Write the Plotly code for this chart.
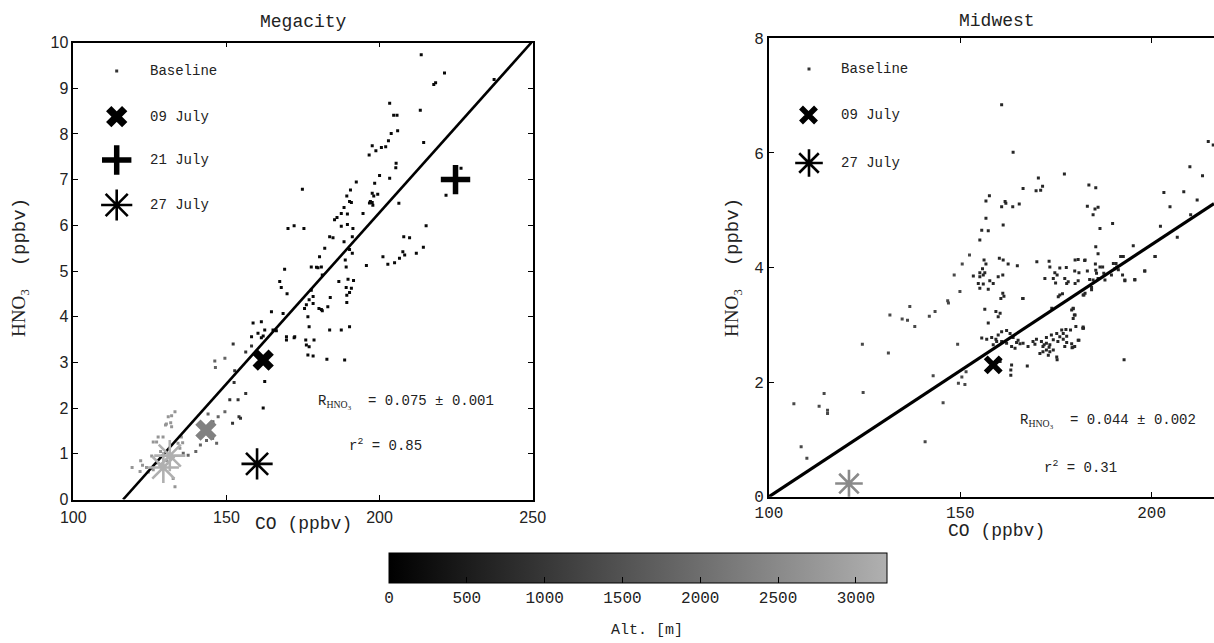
import plotly.graph_objects as go
import numpy as np

W, H = 1214, 643

# ---------------- DATA ----------------
# Megacity baseline points, grouped by altitude (m)
mega_k_co = [213.6, 221.2, 218.3, 217.7, 237.4, 203.3, 204.6, 205.7, 213.3, 205.9, 203.8, 202.9, 202.0, 200.6,
             198.8, 197.6, 196.6, 214.4, 205.4, 205.3, 200.0, 203.3, 192.4, 198.4, 190.5, 197.6, 199.4, 198.1,
             189.3, 190.8, 196.7, 197.6, 206.3, 188.4, 187.5, 186.1, 189.5, 194.6, 221.7, 226.6, 215.2, 185.3,
             187.5, 189.5, 191.3, 174.8, 170.1, 172.1, 175.3, 183.7, 184.8, 188.4, 191.1, 182.1, 190.2, 191.1,
             188.8, 180.4, 179.4, 177.7, 169.0, 189.1, 195.7, 190.2, 197.0, 197.8, 207.9, 209.8, 201.1, 202.7,
             204.9, 206.5, 207.6, 208.2, 212.0, 214.3, 181.3, 181.0, 179.9, 167.4, 167.9, 169.8, 186.7, 189.7,
             191.5, 177.7, 177.0, 178.3, 178.3, 176.1, 175.5, 181.0, 183.1, 183.9, 181.3, 180.2, 189.1, 190.8,
             190.2, 189.3, 189.3, 176.6, 177.0, 183.7, 187.5, 190.2, 175.9, 176.1, 177.0, 178.6, 176.6, 178.3,
             182.8, 188.6, 169.6, 172.3, 164.7, 168.5, 161.4, 158.7, 162.5, 166.3, 158.2, 162.0, 162.5, 162.0,
             165.2, 172.1, 169.6, 160.3, 161.4]
mega_k_hno3 = [9.73, 9.33, 9.12, 9.08, 9.19, 8.67, 8.41, 8.41, 8.52, 8.07, 8.01, 7.85, 7.72, 7.70,
               7.63, 7.74, 7.54, 7.81, 7.36, 7.26, 7.09, 7.03, 6.95, 6.92, 6.77, 6.70, 6.68, 6.64,
               6.64, 6.50, 6.49, 6.50, 6.48, 6.39, 6.26, 6.17, 6.25, 6.26, 6.66, 7.25, 5.99, 6.12,
               5.98, 6.02, 5.93, 6.79, 5.93, 5.99, 5.93, 5.75, 5.73, 5.64, 5.75, 5.50, 5.47, 5.39,
               5.24, 5.31, 5.08, 5.09, 5.04, 5.09, 5.12, 6.52, 6.52, 6.44, 5.75, 5.73, 5.31, 5.15,
               5.18, 5.28, 5.42, 5.35, 5.39, 5.52, 4.91, 5.09, 5.07, 4.77, 4.64, 4.50, 4.77, 4.82,
               4.79, 4.58, 4.37, 4.44, 4.29, 4.26, 4.18, 4.16, 4.22, 4.42, 4.13, 4.18, 4.64, 4.62,
               4.53, 4.31, 4.47, 4.00, 3.78, 3.71, 3.71, 3.78, 3.49, 3.38, 3.34, 3.49, 3.16, 3.14,
               3.07, 3.05, 3.56, 3.56, 4.11, 4.07, 3.89, 3.86, 3.71, 3.69, 3.56, 3.58, 2.58, 2.00,
               3.71, 3.54, 3.49, 3.64, 3.54]
mega_k_alt = 150

mega_d_co = [152.2, 156.3, 158.2, 152.7, 152.5, 156.3, 153.8, 151.1, 154.6, 154.1, 152.0]
mega_d_hno3 = [3.40, 3.23, 3.36, 2.82, 2.56, 2.32, 2.18, 2.18, 1.78, 1.81, 1.67]
mega_d_alt = 900

mega_g_co = [146.2, 149.5, 146.4, 149.5, 145.6, 147.3, 144.0, 143.5, 145.5, 146.8, 141.5, 140.0, 137.5, 135.9]
mega_g_hno3 = [3.03, 3.09, 2.89, 1.92, 1.70, 1.81, 1.87, 1.29, 1.34, 1.23, 1.19, 1.05, 0.97, 1.01]
mega_g_alt = 1800

mega_l_co = [131.0, 132.1, 133.2, 131.8, 132.1, 130.4, 127.7, 129.3, 126.1, 135.3, 134.2, 134.8, 122.0, 122.6,
             121.8, 119.2, 123.9, 124.5, 126.1, 133.2, 125.6, 127.2, 130.1, 135.7, 132.6, 128.5, 130.5, 127.5]
mega_l_hno3 = [1.81, 1.83, 1.92, 1.68, 1.59, 1.65, 1.37, 1.37, 1.26, 1.37, 1.23, 1.12, 0.85, 0.75,
               0.61, 0.70, 0.70, 0.60, 0.65, 0.28, 0.95, 1.26, 1.63, 1.24, 0.46, 1.05, 0.85, 0.80]
mega_l_alt = 2700

# Midwest baseline points
mid_k_co = [160.8, 163.8, 177.2, 214.8, 216.1, 210.0, 213.3, 183.6, 185.4, 170.4, 169.8, 171.0, 171.5, 166.4,
            165.4, 163.7, 161.7, 160.8, 161.9, 157.6, 156.7, 156.7, 155.6, 157.3, 155.1, 161.2, 183.2, 184.7,
            186.0, 185.2, 186.5, 189.8, 185.4, 195.2, 202.3, 204.8, 203.2, 208.4, 206.7, 211.9, 210.2, 200.9,
            198.2, 195.6, 193.0, 192.6, 190.7, 191.3, 189.5, 186.0, 185.3,
            156.2, 156.7, 155.8, 155.1, 156.4, 153.4, 155.1, 156.0, 154.7, 156.0, 155.1, 157.3, 157.7, 158.6,
            159.9, 161.1, 160.2, 161.2, 162.5, 164.9, 161.1, 160.6, 161.4, 159.3, 160.4, 159.9, 157.3, 166.4,
            156.4,
            155.6, 156.9, 158.2, 159.3, 159.9, 160.8, 162.1, 163.0, 163.8, 165.1, 164.7, 165.6, 164.3, 163.4,
            162.1, 160.8, 159.5, 158.6, 163.2, 163.4, 167.5, 160.4, 163.2,
            166.4, 167.7, 169.0, 169.9, 171.2, 171.6, 172.5, 173.4, 174.3, 172.5, 173.8, 175.5, 176.0, 176.9,
            177.8, 179.1, 179.9, 174.3, 175.2, 171.6, 170.8, 173.0, 175.2, 176.9, 177.8, 180.8, 178.8, 177.3,
            179.4, 169.5, 172.5, 171.9, 173.2, 173.4, 175.3, 177.6, 182.2, 179.2, 192.8, 176.5, 182.0, 181.0,
            180.2, 179.5, 179.1, 182.1, 177.3, 177.8, 178.2, 175.3, 175.6, 176.0, 180.0, 180.8, 182.1, 182.6,
            184.7, 186.0, 185.6, 187.5, 184.3, 186.5, 190.0, 190.4, 191.9, 193.0, 195.6, 198.2, 200.9, 192.4,
            190.9, 170.0, 173.4, 174.3, 176.0, 180.0, 182.6, 173.2, 174.7, 172.1, 174.9, 177.7, 176.7, 179.9,
            181.0, 180.8, 182.5, 183.2, 183.8, 185.4, 187.2, 187.8, 179.5, 180.0, 182.3, 184.3, 166.3, 173.9,
            179.5, 179.8]
mid_k_hno3 = [6.84, 6.01, 5.63, 6.20, 6.14, 5.76, 5.60, 5.44, 5.39, 5.56, 5.34, 5.35, 5.42, 5.38,
              5.11, 5.06, 5.15, 5.06, 5.12, 5.25, 5.16, 4.86, 4.65, 4.64, 4.48, 4.74, 5.07, 4.92,
              5.05, 5.02, 4.68, 4.77, 4.36, 4.38, 4.72, 5.06, 5.31, 5.32, 4.53, 5.18, 4.92, 4.19,
              3.94, 3.78, 3.77, 4.19, 4.07, 3.96, 3.87, 4.24, 4.06,
              4.13, 4.06, 3.98, 3.91, 3.91, 3.85, 3.84, 3.87, 3.72, 3.71, 3.64, 3.62, 3.77, 3.72,
              3.84, 3.87, 4.16, 4.13, 4.06, 4.03, 3.55, 3.46, 3.50, 3.23, 3.20, 3.14, 3.03, 3.46,
              3.27,
              2.77, 2.75, 2.78, 2.75, 2.82, 2.88, 2.90, 2.85, 2.78, 2.73, 2.69, 2.67, 2.59, 2.62,
              2.68, 2.71, 2.71, 2.65, 2.21, 2.30, 2.28, 2.36, 2.12,
              2.68, 2.62, 2.71, 2.75, 2.71, 2.62, 2.56, 2.65, 2.74, 2.78, 2.82, 2.71, 2.79, 2.75,
              2.69, 2.67, 2.62, 2.56, 2.44, 2.53, 2.50, 2.47, 2.85, 2.85, 2.80, 2.73, 2.91, 2.62,
              2.61, 2.66, 2.68, 2.65, 2.61, 2.53, 2.39, 2.92, 2.94, 2.60, 2.39, 2.91, 2.94, 2.73,
              2.97, 3.11, 3.26, 2.96, 3.81, 3.72, 3.75, 3.87, 3.49, 3.52, 3.72, 3.77, 3.52, 3.55,
              3.78, 3.81, 3.90, 3.90, 3.61, 4.01, 4.07, 3.98, 4.19, 3.78, 3.79, 3.94, 4.19, 3.87,
              4.01, 4.10, 4.01, 3.81, 3.99, 4.13, 4.13, 4.11, 3.91, 3.81, 3.73, 4.00, 3.54, 3.94,
              3.91, 4.14, 4.12, 3.94, 3.79, 3.95, 4.01, 3.78, 3.28, 3.17, 3.52, 3.65, 3.46, 3.29,
              3.29, 3.17]
mid_k_alt = 700

mid_g_co = [124.4, 131.2, 142.9, 145.5, 140.8, 124.6, 114.4, 113.1, 115.3, 115.3, 106.5, 108.4, 109.9, 136.8,
            134.8, 136.2, 131.6, 138.1, 143.4, 141.9, 146.7, 146.9, 149.9, 148.4, 150.5, 152.4, 149.3, 149.5,
            151.2, 151.5, 150.4]
mid_g_hno3 = [2.66, 2.51, 2.11, 1.64, 0.96, 1.82, 1.80, 1.58, 1.51, 1.45, 1.62, 0.87, 0.67, 3.32,
              3.10, 3.08, 3.17, 2.97, 3.23, 3.15, 3.42, 3.38, 3.58, 3.87, 4.06, 4.22, 2.66, 1.98,
              1.96, 2.18, 2.09]
mid_g_alt = 1300

# Plume flights (CO, HNO3, altitude)
mega_jul09_co, mega_jul09_hno3, mega_jul09_alt = [162.0, 143.3], [3.05, 1.52], [50, 2350]
mega_jul21_co, mega_jul21_hno3, mega_jul21_alt = [224.8], [7.0], [50]
mega_jul27_co, mega_jul27_hno3, mega_jul27_alt = [160.0, 129.4, 131.5], [0.78, 0.70, 0.96], [50, 3200, 3200]
mid_jul09_co, mid_jul09_hno3, mid_jul09_alt = [158.6], [2.30], [50]
mid_jul27_co, mid_jul27_hno3, mid_jul27_alt = [120.9], [0.23], [2500]

# Regression fits (slope, intercept)
mega_fit = (0.075, -8.72)
mid_fit = (0.044, -4.4)
mega_stats = ("0.075", "0.001", "0.85")
mid_stats = ("0.044", "0.002", "0.31")

alt_ticks = [0, 500, 1000, 1500, 2000, 2500, 3000]

# ---------------- STYLE ----------------
MONO = "Liberation Mono"
SANS = "Liberation Sans"
SERIF = "Liberation Serif"
CSCALE = [[0, "rgb(0,0,0)"], [1, "rgb(176,176,176)"]]
CMIN, CMAX = 0, 3200
TXT = "#222"


def px(x):
    return x / W


def py(y):
    return 1 - y / H


fig = go.Figure()


def base(xs, ys, alt, xa, ya, showscale=False):
    kw = {}
    if showscale:
        kw = dict(colorbar=dict(
            orientation="h", thickness=30, thicknessmode="pixels", len=498, lenmode="pixels",
            x=px(638), xanchor="center", y=py(553), yanchor="top", xpad=0, ypad=0,
            outlinecolor="black", outlinewidth=1, ticks="inside", ticklen=6, tickcolor="black",
            tickvals=alt_ticks, tickfont=dict(family=MONO, size=16, color=TXT)))
    fig.add_trace(go.Scatter(
        x=xs, y=ys, mode="markers", xaxis=xa, yaxis=ya, hoverinfo="skip",
        marker=dict(symbol="square", size=3, color=[alt] * len(xs), colorscale=CSCALE,
                    cmin=CMIN, cmax=CMAX, showscale=showscale, line=dict(width=0), **kw)))


def special(xs, ys, alts, sym, size, lw, xa, ya):
    fig.add_trace(go.Scatter(
        x=xs, y=ys, mode="markers", xaxis=xa, yaxis=ya, hoverinfo="skip",
        marker=dict(symbol=sym, size=size, color=alts, colorscale=CSCALE, cmin=CMIN, cmax=CMAX,
                    line=dict(width=lw, color=alts, colorscale=CSCALE, cmin=CMIN, cmax=CMAX))))


def fitline(fit, xmax, ymax, xa, ya, width):
    a, b = fit
    x0 = -b / a
    x1 = min(xmax, (ymax - b) / a)
    xs = np.array([x0, x1])
    fig.add_trace(go.Scatter(x=xs, y=a * xs + b, mode="lines", xaxis=xa, yaxis=ya,
                             line=dict(color="black", width=width), hoverinfo="skip"))


# Megacity
base(mega_l_co, mega_l_hno3, mega_l_alt, "x", "y")
base(mega_g_co, mega_g_hno3, mega_g_alt, "x", "y")
base(mega_d_co, mega_d_hno3, mega_d_alt, "x", "y")
base(mega_k_co, mega_k_hno3, mega_k_alt, "x", "y", showscale=True)
fitline(mega_fit, 250, 10, "x", "y", 2.6)
special(mega_jul09_co, mega_jul09_hno3, mega_jul09_alt, "x-thin", 16, 7.5, "x", "y")
special(mega_jul21_co, mega_jul21_hno3, mega_jul21_alt, "cross-thin", 21, 5.5, "x", "y")
special(mega_jul27_co, mega_jul27_hno3, mega_jul27_alt, "asterisk", 26, 2.6, "x", "y")

# Midwest
base(mid_g_co, mid_g_hno3, mid_g_alt, "x2", "y2")
base(mid_k_co, mid_k_hno3, mid_k_alt, "x2", "y2")
MID_XMAX = 216.3
fitline(mid_fit, MID_XMAX, 8, "x2", "y2", 3.2)
special(mid_jul09_co, mid_jul09_hno3, mid_jul09_alt, "x-thin", 15, 5.5, "x2", "y2")
special(mid_jul27_co, mid_jul27_hno3, mid_jul27_alt, "asterisk", 23, 2.6, "x2", "y2")

# Legend keys drawn in a pixel-unit overlay axis
keys = [
    (116.7, 71, "square", 3, 0, "Baseline"),
    (116.7, 116.7, "x-thin", 16, 7.5, "09 July"),
    (116.7, 160, "cross-thin", 21, 5.5, "21 July"),
    (116.7, 205, "asterisk", 26, 2.6, "27 July"),
    (809, 69, "square", 3, 0, "Baseline"),
    (808.5, 115, "x-thin", 15, 5.5, "09 July"),
    (809, 163, "asterisk", 23, 2.6, "27 July"),
]
for kx, ky, sym, sz, lw, lab in keys:
    fig.add_trace(go.Scatter(x=[kx], y=[ky], mode="markers", xaxis="x3", yaxis="y3", hoverinfo="skip",
                             marker=dict(symbol=sym, size=sz, color="black" if lab != "Baseline" else "#333",
                                         line=dict(width=lw, color="black"))))

annotations = []
for kx, ky, sym, sz, lw, lab in keys:
    tx = 148 if kx < 600 else 838.5
    annotations.append(dict(x=px(tx), y=py(ky), xref="paper", yref="paper", text=lab, showarrow=False,
                            xanchor="left", yanchor="middle", font=dict(family=MONO, size=14, color=TXT)))

# Titles
annotations.append(dict(x=px(303), y=py(22), xref="paper", yref="paper", text="Megacity", showarrow=False,
                        xanchor="center", yanchor="middle", font=dict(family=MONO, size=18, color=TXT)))
annotations.append(dict(x=px(997), y=py(21), xref="paper", yref="paper", text="Midwest", showarrow=False,
                        xanchor="center", yanchor="middle", font=dict(family=MONO, size=18, color=TXT)))
# Axis titles
for cx, cy in [(303, 524), (997, 531)]:
    annotations.append(dict(x=px(cx), y=py(cy), xref="paper", yref="paper", text="CO (ppbv)", showarrow=False,
                            xanchor="center", yanchor="middle", font=dict(family=MONO, size=18, color=TXT)))
ylab = "<span style='font-family:Liberation Serif'>HNO<sub>3</sub></span>  (ppbv)"
for cx, cy in [(20, 268), (733, 268)]:
    annotations.append(dict(x=px(cx), y=py(cy), xref="paper", yref="paper", text=ylab, showarrow=False,
                            textangle=-90, xanchor="center", yanchor="middle",
                            font=dict(family=MONO, size=19, color=TXT)))
# Colorbar title
annotations.append(dict(x=px(647), y=py(630), xref="paper", yref="paper", text="Alt. [m]", showarrow=False,
                        xanchor="center", yanchor="middle", font=dict(family=MONO, size=15, color=TXT)))
# Fit statistics
for (rx, ry, r2x, r2y), (s, e, r2) in [((316, 402, 347, 445), mega_stats), ((1018, 421, 1042, 467), mid_stats)]:
    annotations.append(dict(
        x=px(rx), y=py(ry), xref="paper", yref="paper", showarrow=False, xanchor="left", yanchor="middle",
        text=f"R<sub><span style='font-family:Liberation Serif'>HNO<sub>3</sub></span></sub>  = {s} \u00b1 {e}",
        font=dict(family=MONO, size=14, color=TXT)))
    annotations.append(dict(
        x=px(r2x), y=py(r2y), xref="paper", yref="paper", showarrow=False, xanchor="left", yanchor="middle",
        text=f"r<sup>2</sup> = {r2}", font=dict(family=MONO, size=14, color=TXT)))

axis_common = dict(showline=True, linecolor="black", showgrid=False, zeroline=False, ticks="inside",
                   tickcolor="black", ticklen=5)

fig.update_layout(
    width=W, height=H, margin=dict(l=0, r=0, t=0, b=0, autoexpand=False),
    paper_bgcolor="white", plot_bgcolor="rgba(0,0,0,0)", showlegend=False,
    xaxis=dict(domain=[px(73.3), px(532.7)], range=[100, 250], tickvals=[100, 150, 200, 250],
               mirror="allticks", linewidth=1.5, anchor="y", ticklabelstandoff=3,
               tickfont=dict(family=SANS, size=16, color=TXT), **axis_common),
    yaxis=dict(domain=[py(499.5), py(42.5)], range=[0, 10], tickvals=list(range(11)),
               mirror="allticks", linewidth=1.5, anchor="x",
               tickfont=dict(family=SANS, size=16, color=TXT), **axis_common),
    xaxis2=dict(domain=[px(769), 1.0], range=[100, MID_XMAX], tickvals=[100, 150, 200],
                mirror="allticks", linewidth=2, anchor="y2",
                tickfont=dict(family=MONO, size=16, color=TXT), **axis_common),
    yaxis2=dict(domain=[py(496.7), py(38.3)], range=[0, 8], tickvals=[0, 2, 4, 6, 8],
                mirror=False, linewidth=2, anchor="x2",
                tickfont=dict(family=MONO, size=16, color=TXT), **axis_common),
    xaxis3=dict(domain=[0, 1], range=[0, W], visible=False, anchor="y3"),
    yaxis3=dict(domain=[0, 1], range=[H, 0], visible=False, anchor="x3"),
    annotations=annotations,
)

fig.write_html("out.html")
